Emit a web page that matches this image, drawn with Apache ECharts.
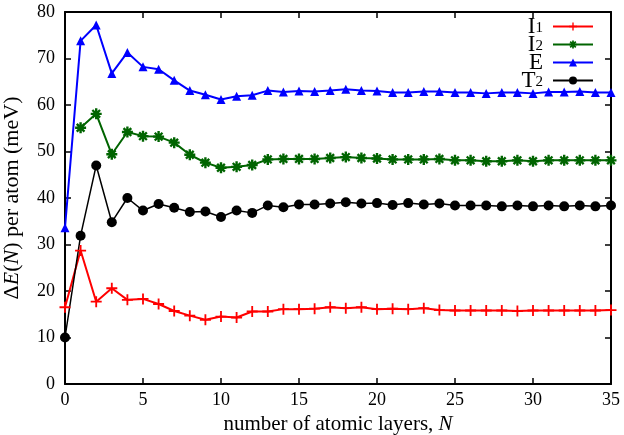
<!DOCTYPE html>
<html>
<head>
<meta charset="utf-8">
<script src="https://cdn.jsdelivr.net/npm/echarts@6/dist/echarts.min.js"></script>
<style>
  html, body { margin: 0; padding: 0; background: #fff; }
  #chart { width: 624px; height: 435px; }
</style>
</head>
<body>
<div id="chart"></div>
<script>
  // number of atomic layers N
  var layers = [0, 1, 2, 3, 4, 5, 6, 7, 8, 9, 10, 11, 12, 13, 14, 15, 16, 17,
    18, 19, 20, 21, 22, 23, 24, 25, 26, 27, 28, 29, 30, 31, 32, 33, 34, 35]

  // Delta E(N) per atom in meV
  var i1 = [16.5, 28.7, 17.7, 20.6, 18.1, 18.3, 17.2, 15.7, 14.7, 13.8, 14.5, 14.3,
    15.6, 15.6, 16.1, 16.1, 16.2, 16.5, 16.3, 16.5, 16.1, 16.2, 16.1, 16.3,
    15.9, 15.8, 15.8, 15.8, 15.8, 15.7, 15.8, 15.8, 15.8, 15.8, 15.8, 15.9]
  var i2 = [null, 55.1, 58.1, 49.4, 54.2, 53.3, 53.2, 51.9, 49.3, 47.6, 46.5, 46.7,
    47.1, 48.3, 48.4, 48.4, 48.4, 48.6, 48.8, 48.6, 48.5, 48.3, 48.3, 48.3,
    48.4, 48.1, 48.1, 47.9, 47.9, 48.1, 47.9, 48.1, 48.1, 48.1, 48.1, 48.1]
  var e = [33.6, 73.8, 77.2, 66.8, 71.3, 68.2, 67.7, 65.3, 63.1, 62.2, 61.2, 61.9,
    62.1, 63.1, 62.8, 63.0, 62.9, 63.1, 63.4, 63.1, 63.0, 62.7, 62.7, 62.9,
    62.9, 62.7, 62.7, 62.5, 62.7, 62.7, 62.5, 62.8, 62.8, 62.9, 62.7, 62.7]
  var t2 = [10.0, 31.9, 47.0, 34.8, 40.0, 37.3, 38.7, 37.9, 37.0, 37.1, 35.9, 37.3,
    36.8, 38.4, 38.0, 38.6, 38.6, 38.8, 39.1, 38.8, 38.9, 38.5, 38.9, 38.6,
    38.8, 38.4, 38.4, 38.4, 38.2, 38.4, 38.2, 38.4, 38.2, 38.4, 38.2, 38.4]

  var xTicks = [0, 5, 10, 15, 20, 25, 30, 35]
  var yTicks = [0, 10, 20, 30, 40, 50, 60, 70, 80]

  var font = 'Liberation Serif'
  var plusPath = 'path://M-1,-6L1,-6L1,-1L6,-1L6,1L1,1L1,6L-1,6L-1,1L-6,1L-6,-1L-1,-1Z'
  var starPath = 'path://M-1.3,-6L1.3,-6L1.3,-1.3L6,-1.3L6,1.3L1.3,1.3L1.3,6L-1.3,6L-1.3,1.3L-6,1.3L-6,-1.3L-1.3,-1.3Z' +
    'M-3.3,-5.1L5.1,3.3L3.3,5.1L-5.1,-3.3Z' +
    'M-5.1,3.3L3.3,-5.1L5.1,-3.3L-3.3,5.1Z'

  function pairs (ys) {
    return layers.map(function (x, k) { return [x, ys[k]] })
  }

  var legendText = {
    I1: '{m|I}{s|1}{g| }',
    I2: '{m|I}{s|2}{g| }',
    E: '{m|E}{g| }',
    T2: '{m|T}{s|2}{g| }'
  }

  function xAxis (pos) {
    return {
      type: 'value',
      position: pos,
      min: 0,
      max: 35,
      interval: 5,
      axisLine: { onZero: false, lineStyle: { color: '#000', width: 2 } },
      axisTick: { inside: true, length: 6, lineStyle: { color: '#000', width: 1.5 } },
      axisLabel: {
        show: pos === 'bottom',
        color: '#000',
        fontFamily: font,
        fontSize: 18,
        margin: 7,
        formatter: function (v) { return xTicks.indexOf(v) >= 0 ? String(v) : '' }
      },
      splitLine: { show: false }
    }
  }

  function yAxis (pos) {
    return {
      type: 'value',
      position: pos,
      min: 0,
      max: 80,
      interval: 10,
      axisLine: { onZero: false, lineStyle: { color: '#000', width: 2 } },
      axisTick: { inside: true, length: 6, lineStyle: { color: '#000', width: 1.5 } },
      axisLabel: {
        show: pos === 'left',
        color: '#000',
        fontFamily: font,
        fontSize: 18,
        margin: 10,
        formatter: function (v) { return yTicks.indexOf(v) >= 0 ? String(v) : '' }
      },
      splitLine: { show: false }
    }
  }

  var bottomAxis = xAxis('bottom')
  bottomAxis.name = '{t|number of atomic layers, }{i|N}'
  bottomAxis.nameLocation = 'middle'
  bottomAxis.nameGap = 29
  bottomAxis.nameTextStyle = {
    rich: {
      t: { fontFamily: font, fontSize: 21, color: '#000' },
      i: { fontFamily: font, fontSize: 21, fontStyle: 'italic', color: '#000' }
    }
  }

  var leftAxis = yAxis('left')
  leftAxis.name = '{t|Δ}{i|E}{t|(}{i|N}{t|) per atom (meV)}'
  leftAxis.nameLocation = 'middle'
  leftAxis.nameGap = 42
  leftAxis.nameTextStyle = {
    rich: {
      t: { fontFamily: font, fontSize: 22, color: '#000' },
      i: { fontFamily: font, fontSize: 22, fontStyle: 'italic', color: '#000' }
    }
  }

  function series (name, ys, color, symbol, size, width) {
    return {
      name: name,
      type: 'line',
      data: pairs(ys),
      xAxisIndex: 0,
      yAxisIndex: 0,
      symbol: symbol,
      symbolSize: size,
      showAllSymbol: true,
      connectNulls: false,
      color: color,
      lineStyle: { color: color, width: width },
      itemStyle: { color: color },
      emphasis: { disabled: true },
      animation: false
    }
  }

  var option = {
    animation: false,
    grid: { left: 65, right: 13, top: 12, bottom: 51, outerBoundsMode: 'none', containLabel: false },
    legend: {
      data: ['I1', 'I2', 'E', 'T2'],
      orient: 'vertical',
      right: 30,
      top: 15,
      align: 'right',
      itemWidth: 40,
      itemHeight: 10,
      itemGap: -5,
      padding: 0,
      selectedMode: false,
      formatter: function (name) { return legendText[name] },
      textStyle: {
        rich: {
          m: { fontFamily: font, fontSize: 23, color: '#000', lineHeight: 18 },
          s: { fontFamily: font, fontSize: 15, color: '#000', lineHeight: 10, verticalAlign: 'bottom' },
          g: { width: 5, lineHeight: 18 }
        }
      }
    },
    xAxis: [bottomAxis, xAxis('top')],
    yAxis: [leftAxis, yAxis('right')],
    series: [
      series('I1', i1, '#ff0000', plusPath, 11, 2),
      series('I2', i2, '#006400', starPath, 11, 2),
      series('E', e, '#0000ff', 'triangle', 9, 2),
      series('T2', t2, '#000000', 'circle', 10, 1.5)
    ]
  }

  var chart = echarts.init(document.getElementById('chart'))
  chart.setOption(option)
</script>
</body>
</html>
